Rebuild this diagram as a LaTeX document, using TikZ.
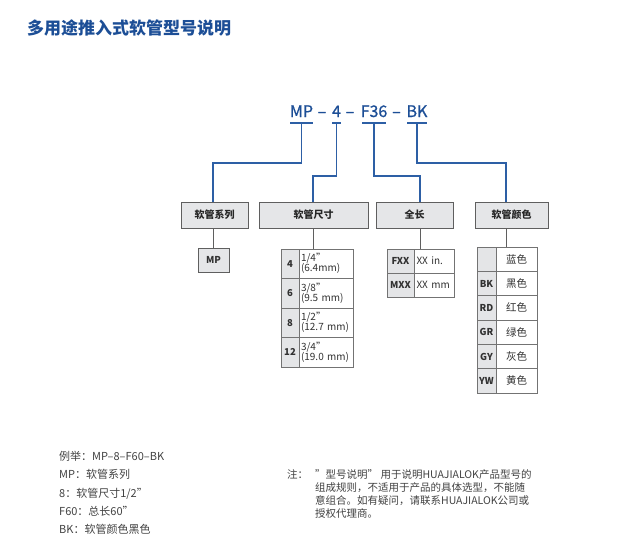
\documentclass[tikz,border=0pt]{standalone}
\usepackage{fontspec}
\setmainfont{Noto Sans CJK SC}
\definecolor{tblue}{RGB}{28,78,150}
\definecolor{lblue}{RGB}{45,95,165}
\definecolor{gline}{RGB}{95,95,95}
\definecolor{cline}{RGB}{115,115,115}
\definecolor{hfill}{RGB}{229,230,232}
\definecolor{cfill}{RGB}{228,229,231}
\definecolor{tgrey}{RGB}{50,50,50}
\definecolor{btext}{RGB}{65,65,65}
\tikzset{
  hdr/.style={draw=gline, line width=0.9pt, fill=hfill, minimum height=26pt, inner sep=0pt,
    font=\bfseries\fontsize{10}{12}\selectfont, text=black!85},
  lcell/.style={draw=cline, line width=0.6pt, fill=cfill, inner sep=0pt,
    font=\bfseries\fontsize{9.5}{10}\selectfont, text=tgrey},
  rcell/.style={draw=cline, line width=0.6pt, fill=white, inner sep=0pt,
    font=\fontsize{10}{10}\selectfont, text=tgrey},
  ccell/.style={draw=cline, line width=0.6pt, fill=white, inner sep=0pt,
    font=\fontsize{10.5}{12}\selectfont, text=tgrey},
  bl/.style={draw=lblue, line width=1.3pt},
  gl/.style={draw=gline, line width=1pt},
  code/.style={text=tblue, font=\fontsize{16}{18}\selectfont\addfontfeatures{FakeBold=0.8}, anchor=base, inner sep=0pt},
  exline/.style={anchor=base west, inner sep=0pt, text=btext, font=\fontsize{11}{12}\selectfont},
  noteline/.style={anchor=base west, inner sep=0pt, text=btext,
    font=\fontsize{10.5}{13}\selectfont},
}
\begin{document}
\begin{tikzpicture}[x=1pt,y=-1pt]
\useasboundingbox (0,0) rectangle (627,557);
% title
\node[anchor=west, inner sep=0pt, text=tblue, font=\bfseries\fontsize{17}{19}\selectfont] (title) at (27,28) {多用途推入式软管型号说明};
% code line
\node[code] (cMP) at (301.5,117) {MP};
\node[code] (d1) at (322,117) {–};
\node[code] (c4) at (336.5,117) {4};
\node[code] (d2) at (350,117) {–};
\node[code] (cF) at (374,117) {F36};
\node[code] (d3) at (396.5,117) {–};
\node[code] (cBK) at (417,117) {BK};
% underlines
\coordinate (uMPa) at (290,123); \coordinate (uMPb) at (313,123);
\coordinate (u4a) at (332,123); \coordinate (u4b) at (341,123);
\coordinate (uFa) at (362,123); \coordinate (uFb) at (386,123);
\coordinate (uBKa) at (407,123); \coordinate (uBKb) at (427,123);
\draw[bl] (uMPa) -- (uMPb);
\draw[bl] (u4a) -- (u4b);
\draw[bl] (uFa) -- (uFb);
\draw[bl] (uBKa) -- (uBKb);
% header boxes
\node[hdr, minimum width=67pt] (hA) at (214.5,215) {软管系列};
\node[hdr, minimum width=109pt] (hB) at (313.5,215) {软管尺寸};
\node[hdr, minimum width=77pt] (hC) at (414.5,215) {全长};
\node[hdr, minimum width=73pt] (hD) at (511.5,215) {软管颜色};
% junction coordinates
\coordinate (sMP) at (301.5,123); \coordinate (jA) at (213,202);
\coordinate (s4) at (336.5,123);  \coordinate (jB) at (313,202);
\coordinate (sF) at (374,123);    \coordinate (jC) at (420,202);
\coordinate (sBK) at (417,123);   \coordinate (jD) at (506,202);
\draw[bl] (sMP) -- ++(0,40) -| (jA);
\draw[bl] (s4) -- ++(0,53) -| (jB);
\draw[bl] (sF) -- ++(0,53) -| (jC);
\draw[bl] (sBK) -- ++(0,40) -| (jD);
% MP box
\node[lcell, draw=gline, line width=0.8pt, fill=hfill, minimum width=31pt, minimum height=24pt] (mp) at (213.5,260) {MP};
% table B (size)
\node[lcell, minimum width=18pt, minimum height=29.5pt] (b1l) at (290,263.75) {4};
\node[rcell, minimum width=54pt, minimum height=29.5pt, text width=50pt, align=left] (b1r) at (326,263.75) {1/4"\\(6.4mm)};
\node[lcell, minimum width=18pt, minimum height=29.5pt] (b2l) at (290,293.25) {6};
\node[rcell, minimum width=54pt, minimum height=29.5pt, text width=50pt, align=left] (b2r) at (326,293.25) {3/8"\\(9.5 mm)};
\node[lcell, minimum width=18pt, minimum height=29.5pt] (b3l) at (290,322.75) {8};
\node[rcell, minimum width=54pt, minimum height=29.5pt, text width=50pt, align=left] (b3r) at (326,322.75) {1/2"\\(12.7 mm)};
\node[lcell, minimum width=18pt, minimum height=29.5pt] (b4l) at (290,352.25) {12};
\node[rcell, minimum width=54pt, minimum height=29.5pt, text width=50pt, align=left] (b4r) at (326,352.25) {3/4"\\(19.0 mm)};
% table C (length)
\node[lcell, minimum width=27pt, minimum height=24pt] (c1l) at (400.5,261) {FXX};
\node[rcell, minimum width=40pt, minimum height=24pt, text width=35pt, align=left] (c1r) at (434,261) {XX in.};
\node[lcell, minimum width=27pt, minimum height=24pt] (c2l) at (400.5,285) {MXX};
\node[rcell, minimum width=40pt, minimum height=24pt, text width=35pt, align=left] (c2r) at (434,285) {XX mm};
% table D (colour)
\node[lcell, minimum width=19pt, minimum height=24.33pt] (e1l) at (486.5,259.17) {};
\node[ccell, minimum width=41pt, minimum height=24.33pt] (e1r) at (516.5,259.17) {蓝色};
\node[lcell, minimum width=19pt, minimum height=24.33pt] (e2l) at (486.5,283.5) {BK};
\node[ccell, minimum width=41pt, minimum height=24.33pt] (e2r) at (516.5,283.5) {黑色};
\node[lcell, minimum width=19pt, minimum height=24.33pt] (e3l) at (486.5,307.83) {RD};
\node[ccell, minimum width=41pt, minimum height=24.33pt] (e3r) at (516.5,307.83) {红色};
\node[lcell, minimum width=19pt, minimum height=24.33pt] (e4l) at (486.5,332.17) {GR};
\node[ccell, minimum width=41pt, minimum height=24.33pt] (e4r) at (516.5,332.17) {绿色};
\node[lcell, minimum width=19pt, minimum height=24.33pt] (e5l) at (486.5,356.5) {GY};
\node[ccell, minimum width=41pt, minimum height=24.33pt] (e5r) at (516.5,356.5) {灰色};
\node[lcell, minimum width=19pt, minimum height=24.33pt] (e6l) at (486.5,380.83) {YW};
\node[ccell, minimum width=41pt, minimum height=24.33pt] (e6r) at (516.5,380.83) {黄色};
% grey stems
\coordinate (gA) at (213,228);  \coordinate (tA) at (213,248);
\coordinate (gB) at (313,228);  \coordinate (tB) at (313,249);
\coordinate (gC) at (420,228);  \coordinate (tC) at (420,249);
\coordinate (gD) at (506,228);  \coordinate (tD) at (506,247);
\draw[gl] (gA) -- (tA);
\draw[gl] (gB) -- (tB);
\draw[gl] (gC) -- (tC);
\draw[gl] (gD) -- (tD);
% example text
\node[exline] (ex1) at (59,460) {例举：MP–8–F60–BK};
\node[exline] (ex2) at (59,478) {MP：软管系列};
\node[exline] (ex3) at (59,497) {8：软管尺寸1/2"};
\node[exline] (ex4) at (59,515) {F60：总长60"};
\node[exline] (ex5) at (59,533) {BK：软管颜色黑色};
% note
\node[noteline] (noteh) at (287,478) {注：};
\node[noteline] (note1) at (315,478) {"型号说明" 用于说明HUAJIALOK产品型号的};
\node[noteline] (note2) at (315,491) {组成规则，不适用于产品的具体选型，不能随};
\node[noteline] (note3) at (315,504) {意组合。如有疑问，请联系HUAJIALOK公司或};
\node[noteline] (note4) at (315,517) {授权代理商。};
\end{tikzpicture}
\end{document}
